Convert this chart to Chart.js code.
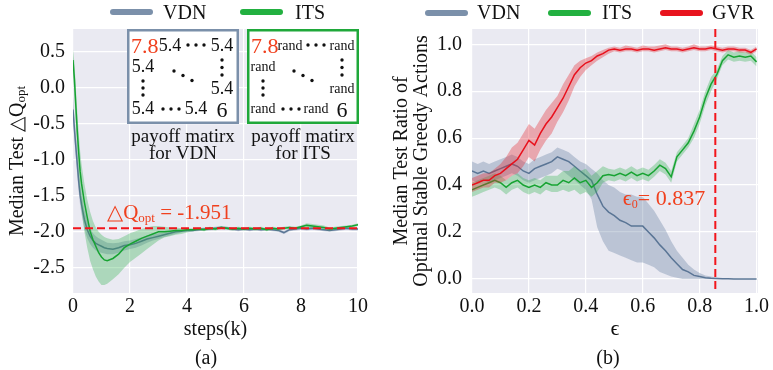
<!DOCTYPE html>
<html>
<head>
<meta charset="utf-8">
<script src="https://cdn.jsdelivr.net/npm/chart.js@4.4.1/dist/chart.umd.min.js"></script>
<style>
  body { margin: 0; width: 773px; height: 370px; position: relative; overflow: hidden; background: #fff;
         font-family: "Liberation Serif", "DejaVu Serif", serif; color: #111; }
  canvas { position: absolute; top: 0; }
  #leftChart { left: 0; }
  #rightChart { left: 390px; }
  .lg { position: absolute; height: 6px; width: 43px; border-radius: 3px; }
  .lt { position: absolute; font-size: 20px; line-height: 24px; top: 0; }
  .cap { position: absolute; top: 344px; font-size: 20px; line-height: 26px; width: 60px; text-align: center; }
</style>
</head>
<body>
<canvas id="leftChart" width="390" height="345"></canvas>
<canvas id="rightChart" width="383" height="345"></canvas>

<div class="lg" style="left:110px;top:9px;background:#7b90aa"></div><span class="lt" style="left:163px">VDN</span>
<div class="lg" style="left:240px;top:9px;background:#22b040"></div><span class="lt" style="left:295px">ITS</span>

<div class="lg" style="left:425px;top:10px;background:#7b90aa"></div><span class="lt" style="left:477px">VDN</span>
<div class="lg" style="left:548px;top:10px;background:#22b040"></div><span class="lt" style="left:602px">ITS</span>
<div class="lg" style="left:660px;top:10px;background:#e8141e"></div><span class="lt" style="left:712px">GVR</span>

<div class="cap" style="left:176px">(a)</div>
<div class="cap" style="left:578px">(b)</div>

<script>
// ---- left panel: median test dQ_opt vs steps(k)
const steps = [0, 0.05, 0.1, 0.15, 0.2, 0.25, 0.3, 0.4, 0.5, 0.6, 0.7, 0.8, 0.9, 1.0, 1.1, 1.2, 1.4, 1.6, 1.8, 2.0,
  2.2, 2.4, 2.6, 2.8, 3.0, 3.2, 3.4, 3.6, 3.8, 4.0,
  4.2, 4.4, 4.6, 4.8, 5.0, 5.2, 5.4, 5.6, 5.8, 6.0, 6.2, 6.4, 6.6, 6.8, 7.0, 7.2, 7.4, 7.6, 7.8, 8.0,
  8.2, 8.4, 8.6, 8.8, 9.0, 9.2, 9.4, 9.6, 9.8, 10.0];

const vdnQ = [-0.3, -0.57, -0.82, -1.06, -1.3, -1.49, -1.62, -1.83, -1.97, -2.06, -2.12, -2.16, -2.18, -2.2, -2.22, -2.23, -2.24, -2.22, -2.19, -2.18,
  -2.16, -2.13, -2.1, -2.08, -2.06, -2.04, -2.02, -2.0, -1.99, -1.98,
  -1.98, -1.97, -1.96, -1.96, -1.95, -1.94, -1.95, -1.96, -1.97, -1.96, -1.97, -1.96, -1.97, -1.96, -1.97, -1.98, -2.01, -1.97, -1.96, -1.95,
  -1.96, -1.95, -1.96, -1.97, -1.98, -1.97, -1.96, -1.95, -1.96, -1.96];
const vdnQLo = [-0.45, -0.73, -0.98, -1.22, -1.45, -1.63, -1.76, -1.96, -2.09, -2.17, -2.22, -2.26, -2.28, -2.29, -2.3, -2.31, -2.31, -2.29, -2.26, -2.24,
  -2.22, -2.19, -2.15, -2.12, -2.1, -2.07, -2.05, -2.03, -2.01, -2.0,
  -2.0, -1.99, -1.98, -1.98, -1.97, -1.96, -1.97, -1.98, -1.99, -1.98, -1.99, -1.98, -1.99, -1.98, -1.99, -2.0, -2.03, -1.99, -1.98, -1.97,
  -1.98, -1.97, -1.98, -1.99, -2.0, -1.99, -1.98, -1.97, -1.98, -1.98];
const vdnQHi = [-0.12, -0.4, -0.66, -0.9, -1.14, -1.34, -1.48, -1.7, -1.85, -1.95, -2.02, -2.06, -2.09, -2.11, -2.13, -2.15, -2.16, -2.15, -2.13, -2.12,
  -2.1, -2.08, -2.05, -2.04, -2.02, -2.01, -1.99, -1.97, -1.97, -1.96,
  -1.96, -1.95, -1.94, -1.94, -1.93, -1.92, -1.93, -1.94, -1.95, -1.94, -1.95, -1.94, -1.95, -1.94, -1.95, -1.96, -1.99, -1.95, -1.94, -1.93,
  -1.94, -1.93, -1.94, -1.95, -1.96, -1.95, -1.94, -1.93, -1.94, -1.94];

const itsQ = [0.39, 0.12, -0.25, -0.6, -0.9, -1.16, -1.33, -1.59, -1.8, -1.99, -2.11, -2.2, -2.29, -2.35, -2.39, -2.4, -2.37, -2.31, -2.22, -2.17,
  -2.13, -2.09, -2.06, -2.03, -2.0, -2.0, -1.99, -1.98, -1.98, -1.97,
  -1.97, -1.96, -1.97, -1.95, -1.96, -1.94, -1.95, -1.96, -1.95, -1.96, -1.95, -1.96, -1.95, -1.97, -1.95, -1.96, -1.95, -1.94, -1.95, -1.93,
  -1.91, -1.92, -1.93, -1.94, -1.96, -1.95, -1.94, -1.93, -1.92, -1.9];
const itsQLo = [0.2, -0.15, -0.55, -0.92, -1.22, -1.5, -1.7, -2.0, -2.22, -2.4, -2.52, -2.62, -2.69, -2.74, -2.74, -2.72, -2.66, -2.59, -2.5, -2.42,
  -2.36, -2.3, -2.24, -2.18, -2.12, -2.08, -2.06, -2.04, -2.03, -2.01,
  -1.99, -1.98, -1.99, -1.97, -1.98, -1.96, -1.97, -1.98, -1.97, -1.98, -1.97, -1.98, -1.97, -1.99, -1.97, -1.98, -1.97, -1.96, -1.97, -1.95,
  -1.94, -1.95, -1.96, -1.97, -1.98, -1.97, -1.96, -1.95, -1.94, -1.92];
const itsQHi = [0.53, 0.35, 0.0, -0.33, -0.62, -0.88, -1.06, -1.33, -1.55, -1.72, -1.85, -1.94, -2.0, -2.04, -2.07, -2.09, -2.11, -2.1, -2.06, -2.02,
  -1.99, -1.96, -1.94, -1.92, -1.92, -1.93, -1.94, -1.94, -1.95, -1.95,
  -1.95, -1.94, -1.95, -1.93, -1.94, -1.92, -1.93, -1.94, -1.93, -1.94, -1.93, -1.94, -1.93, -1.95, -1.93, -1.94, -1.93, -1.92, -1.93, -1.91,
  -1.88, -1.89, -1.9, -1.91, -1.94, -1.93, -1.92, -1.91, -1.9, -1.88];

const stepTicks = [0, 2, 4, 6, 8, 10];
const qTicks = [-2.5, -2.0, -1.5, -1.0, -0.5, 0.0, 0.5];
const dqOpt = -1.951;

// ---- right panel: ratio of optimal stable greedy actions vs epsilon
const eps = [0.00, 0.02, 0.04, 0.06, 0.08, 0.10, 0.12, 0.14, 0.16, 0.18,
  0.20, 0.22, 0.24, 0.26, 0.28, 0.30, 0.32, 0.34, 0.36, 0.38,
  0.40, 0.42, 0.44, 0.46, 0.48, 0.50, 0.52, 0.54, 0.56, 0.58,
  0.60, 0.62, 0.64, 0.66, 0.68, 0.70, 0.72, 0.74, 0.76, 0.78,
  0.80, 0.82, 0.84, 0.86, 0.88, 0.90, 0.92, 0.94, 0.96, 0.98, 1.00];

const vdnR = [0.46, 0.45, 0.46, 0.45, 0.46, 0.47, 0.48, 0.49, 0.48, 0.46,
  0.45, 0.47, 0.48, 0.49, 0.50, 0.52, 0.51, 0.50, 0.48, 0.46,
  0.44, 0.42, 0.36, 0.31, 0.285, 0.27, 0.25, 0.24, 0.225, 0.225,
  0.225, 0.20, 0.175, 0.145, 0.12, 0.09, 0.065, 0.04, 0.03, 0.015,
  0.01, 0.005, 0.003, 0.002, 0.001, 0.001, 0, 0, 0, 0, 0];
const vdnRLo = [0.42, 0.41, 0.42, 0.41, 0.42, 0.43, 0.44, 0.45, 0.44, 0.42,
  0.41, 0.42, 0.43, 0.44, 0.45, 0.47, 0.46, 0.44, 0.42, 0.40,
  0.38, 0.34, 0.22, 0.16, 0.12, 0.11, 0.10, 0.09, 0.08, 0.07,
  0.07, 0.06, 0.05, 0.03, 0.02, 0.01, 0.005, 0, 0, 0,
  0, 0, 0, 0, 0, 0, 0, 0, 0, 0, 0];
const vdnRHi = [0.50, 0.49, 0.50, 0.49, 0.50, 0.51, 0.52, 0.53, 0.52, 0.50,
  0.49, 0.51, 0.52, 0.53, 0.54, 0.56, 0.55, 0.54, 0.52, 0.50,
  0.49, 0.47, 0.45, 0.42, 0.40, 0.39, 0.37, 0.36, 0.36, 0.35,
  0.35, 0.32, 0.29, 0.25, 0.21, 0.16, 0.12, 0.09, 0.06, 0.04,
  0.025, 0.015, 0.01, 0.005, 0.003, 0.002, 0.001, 0, 0, 0, 0];

const itsR = [0.38, 0.39, 0.40, 0.41, 0.42, 0.41, 0.39, 0.41, 0.42, 0.40,
  0.39, 0.40, 0.39, 0.41, 0.40, 0.40, 0.42, 0.41, 0.43, 0.41,
  0.42, 0.39, 0.41, 0.44, 0.445, 0.44, 0.45, 0.44, 0.455, 0.44,
  0.45, 0.44, 0.46, 0.485, 0.47, 0.435, 0.52, 0.55, 0.58, 0.63,
  0.69, 0.77, 0.83, 0.87, 0.93, 0.955, 0.945, 0.95, 0.945, 0.95, 0.925];
const itsRLo = [0.35, 0.36, 0.37, 0.38, 0.39, 0.38, 0.36, 0.38, 0.39, 0.37,
  0.36, 0.37, 0.36, 0.38, 0.37, 0.37, 0.38, 0.37, 0.38, 0.36,
  0.37, 0.35, 0.37, 0.41, 0.42, 0.415, 0.425, 0.415, 0.43, 0.415,
  0.425, 0.415, 0.435, 0.46, 0.445, 0.41, 0.50, 0.53, 0.56, 0.60,
  0.66, 0.74, 0.80, 0.85, 0.91, 0.935, 0.925, 0.93, 0.925, 0.93, 0.905];
const itsRHi = [0.41, 0.42, 0.43, 0.44, 0.45, 0.44, 0.42, 0.44, 0.45, 0.43,
  0.42, 0.43, 0.42, 0.44, 0.44, 0.44, 0.46, 0.46, 0.48, 0.46,
  0.47, 0.44, 0.46, 0.48, 0.47, 0.465, 0.475, 0.465, 0.48, 0.465,
  0.475, 0.465, 0.485, 0.51, 0.495, 0.46, 0.54, 0.57, 0.60, 0.66,
  0.72, 0.80, 0.86, 0.89, 0.95, 0.975, 0.965, 0.97, 0.965, 0.97, 0.945];

const gvrR = [0.40, 0.41, 0.42, 0.42, 0.44, 0.45, 0.47, 0.49, 0.51, 0.55,
  0.59, 0.57, 0.62, 0.66, 0.69, 0.73, 0.77, 0.82, 0.87, 0.90,
  0.92, 0.93, 0.95, 0.96, 0.975, 0.98, 0.975, 0.98, 0.98, 0.975,
  0.98, 0.98, 0.975, 0.98, 0.985, 0.98, 0.98, 0.975, 0.98, 0.985,
  0.98, 0.98, 0.985, 0.98, 0.975, 0.98, 0.98, 0.975, 0.975, 0.965, 0.98];
const gvrRLo = [0.37, 0.38, 0.39, 0.39, 0.41, 0.41, 0.42, 0.44, 0.45, 0.48,
  0.52, 0.50, 0.55, 0.59, 0.62, 0.67, 0.71, 0.76, 0.82, 0.86,
  0.89, 0.91, 0.93, 0.945, 0.96, 0.97, 0.965, 0.97, 0.97, 0.965,
  0.97, 0.97, 0.965, 0.97, 0.975, 0.97, 0.97, 0.965, 0.97, 0.975,
  0.97, 0.97, 0.975, 0.97, 0.965, 0.97, 0.97, 0.965, 0.965, 0.955, 0.97];
const gvrRHi = [0.43, 0.44, 0.45, 0.45, 0.47, 0.49, 0.52, 0.56, 0.58, 0.62,
  0.66, 0.64, 0.68, 0.72, 0.75, 0.78, 0.83, 0.87, 0.91, 0.93,
  0.94, 0.95, 0.965, 0.975, 0.985, 0.99, 0.985, 0.995, 0.99, 0.985,
  0.995, 0.99, 0.99, 0.995, 1.0, 0.99, 0.99, 0.985, 0.99, 1.0,
  0.99, 0.99, 0.995, 0.99, 0.985, 0.99, 0.99, 0.985, 0.985, 0.975, 0.99];

const epsTicks = [0.0, 0.2, 0.4, 0.6, 0.8, 1.0];
const ratioTicks = [0.0, 0.2, 0.4, 0.6, 0.8, 1.0];
const eps0Line = 0.855;
const eps0Text = "0.837";

// payoff matrix insets
const vdnWords = ["5.4", "5.4", "5.4", "5.4", "5.4", "5.4"];
const itsWords = ["rand", "rand", "rand", "rand", "rand", "rand"];

const SERIF = "Liberation Serif";
const RED_TXT = "#f0401e";

// one band (lo/hi fill) plus the median line
function series(xs, mid, lo, hi, line, band, ord) {
  const pts = arr => arr.map((y, i) => ({ x: xs[i], y: y }));
  const clear = "rgba(0,0,0,0)";
  return [
    { data: pts(lo), borderColor: clear, borderWidth: 1, pointRadius: 0, fill: false, order: ord + 2 },
    { data: pts(hi), borderColor: clear, borderWidth: 1, pointRadius: 0, fill: "-1", backgroundColor: band, order: ord + 1 },
    { data: pts(mid), borderColor: line, borderWidth: 1.5, pointRadius: 0, fill: false, order: ord }
  ];
}

const plotBg = {
  id: "plotBg",
  beforeDraw(chart) {
    const { ctx, chartArea: a } = chart;
    ctx.save();
    ctx.fillStyle = "#eaeaf2";
    ctx.fillRect(a.left, a.top, a.width, a.height);
    ctx.restore();
  }
};

function dot(ctx, x, y) {
  ctx.beginPath();
  ctx.arc(x, y, 1.7, 0, Math.PI * 2);
  ctx.fill();
}

function drawMatrix(ctx, x0, border, words, wordSize, caption) {
  const top = 29;
  ctx.save();
  ctx.fillStyle = "#fff";
  ctx.fillRect(x0, top, 112, 95);
  ctx.strokeStyle = border;
  ctx.lineWidth = 2.5;
  ctx.strokeRect(x0 + 1.25, top + 1.25, 109.5, 92.5);

  ctx.textBaseline = "middle";
  ctx.fillStyle = RED_TXT;
  ctx.textAlign = "left";
  ctx.font = "22px " + SERIF;
  ctx.fillText("7.8", x0 + 4, 47);

  ctx.fillStyle = "#111";
  ctx.textAlign = "center";
  ctx.font = wordSize + "px " + SERIF;
  ctx.fillText(words[0], x0 + 43, 46);
  ctx.fillText(words[1], x0 + 95, 46);
  ctx.fillText(words[2], x0 + 16, 67);
  ctx.fillText(words[3], x0 + 95, 89);
  ctx.fillText(words[4], x0 + 16, 109);
  ctx.fillText(words[5], x0 + 69, 109);
  ctx.font = "22px " + SERIF;
  ctx.fillText("6", x0 + 95, 111);

  [61, 69, 77].forEach(dx => dot(ctx, x0 + dx, 45));
  [36, 44, 52].forEach(dx => dot(ctx, x0 + dx, 109));
  [60, 67.5, 75].forEach(dy => dot(ctx, x0 + 95, dy));
  [81, 88, 95].forEach(dy => dot(ctx, x0 + 16, dy));
  dot(ctx, x0 + 47, 71); dot(ctx, x0 + 56, 75.5); dot(ctx, x0 + 65, 80.5);

  ctx.font = "19px " + SERIF;
  ctx.fillText("payoff matirx", x0 + 56, 137);
  ctx.fillText(caption, x0 + 56, 154);
  ctx.restore();
}

const leftExtras = {
  id: "leftExtras",
  afterDatasetsDraw(chart) {
    const { ctx, chartArea: a, scales: { x, y } } = chart;
    const yy = y.getPixelForValue(dqOpt);
    ctx.save();
    ctx.strokeStyle = "#f2151b";
    ctx.lineWidth = 2;
    ctx.setLineDash([8, 4]);
    ctx.beginPath();
    ctx.moveTo(a.left, yy);
    ctx.lineTo(a.right, yy);
    ctx.stroke();
    ctx.restore();

    // annotation
    ctx.save();
    ctx.fillStyle = RED_TXT;
    ctx.textBaseline = "alphabetic";
    let px = x.getPixelForValue(1.2);
    const base = y.getPixelForValue(-1.82);
    ctx.font = "21px " + SERIF;
    ctx.fillText("△Q", px, base);
    px += ctx.measureText("△Q").width;
    ctx.font = "13px " + SERIF;
    ctx.fillText("opt", px, base + 3);
    px += ctx.measureText("opt").width;
    ctx.font = "21px " + SERIF;
    ctx.fillText(" = " + dqOpt.toFixed(3), px, base);
    ctx.restore();
  },
  afterDraw(chart) {
    const { ctx, chartArea: a } = chart;
    drawMatrix(ctx, 127, "#7b90aa", vdnWords, 18, "for VDN");
    drawMatrix(ctx, 247, "#1fa83a", itsWords, 14, "for ITS");

    // y-axis title with subscript
    ctx.save();
    ctx.translate(18, (a.top + a.bottom) / 2);
    ctx.rotate(-Math.PI / 2);
    ctx.fillStyle = "#111";
    ctx.textBaseline = "middle";
    ctx.font = "20px " + SERIF;
    const main = "Median Test △Q";
    const w1 = ctx.measureText(main).width;
    ctx.font = "13px " + SERIF;
    const w2 = ctx.measureText("opt").width;
    let sx = -(w1 + w2) / 2;
    ctx.font = "20px " + SERIF;
    ctx.fillText(main, sx, 0);
    ctx.font = "13px " + SERIF;
    ctx.fillText("opt", sx + w1, 4);
    ctx.restore();
  }
};

const rightExtras = {
  id: "rightExtras",
  afterDatasetsDraw(chart) {
    const { ctx, chartArea: a, scales: { x, y } } = chart;
    const xx = x.getPixelForValue(eps0Line);
    ctx.save();
    ctx.strokeStyle = "#f2151b";
    ctx.lineWidth = 2;
    ctx.setLineDash([8, 4]);
    ctx.beginPath();
    ctx.moveTo(xx, a.top);
    ctx.lineTo(xx, a.bottom);
    ctx.stroke();
    ctx.restore();

    ctx.save();
    ctx.fillStyle = RED_TXT;
    ctx.textBaseline = "alphabetic";
    let px = x.getPixelForValue(0.53);
    const base = y.getPixelForValue(0.315);
    ctx.font = "22px " + SERIF;
    ctx.fillText("ϵ", px, base);
    px += ctx.measureText("ϵ").width;
    ctx.font = "12px " + SERIF;
    ctx.fillText("0", px, base + 3);
    px += ctx.measureText("0").width;
    ctx.font = "22px " + SERIF;
    ctx.fillText("= " + eps0Text, px, base);
    ctx.restore();
  }
};

const tickFont = { family: SERIF, size: 20 };
const gridOpts = { color: "#ffffff", lineWidth: 1.2, drawTicks: false };

function fixedTicks(list) {
  return scale => { scale.ticks = list.map(v => ({ value: v })); };
}

new Chart(document.getElementById("leftChart"), {
  type: "line",
  data: {
    datasets: [
      ...series(steps, vdnQ, vdnQLo, vdnQHi, "#5a7595", "rgba(100,125,160,0.35)", 4),
      ...series(steps, itsQ, itsQLo, itsQHi, "#17a332", "rgba(40,175,70,0.32)", 1)
    ]
  },
  options: {
    responsive: false,
    animation: false,
    layout: { padding: { top: 29, right: 32, left: 0, bottom: 0 } },
    plugins: { legend: { display: false }, tooltip: { enabled: false } },
    scales: {
      x: {
        type: "linear", min: 0, max: 10,
        afterBuildTicks: fixedTicks(stepTicks),
        afterFit: s => { s.height = 52; },
        grid: gridOpts, border: { display: false },
        ticks: { font: tickFont, color: "#111", padding: 2, maxRotation: 0, callback: v => String(v) },
        title: { display: true, text: "steps(k)", font: tickFont, color: "#111", padding: { top: 0, bottom: 3 } }
      },
      y: {
        type: "linear", min: -2.85, max: 0.82,
        afterBuildTicks: fixedTicks(qTicks),
        afterFit: s => { s.width = 73; },
        grid: gridOpts, border: { display: false },
        ticks: { font: tickFont, color: "#111", padding: 8, callback: v => v.toFixed(1) }
      }
    }
  },
  plugins: [plotBg, leftExtras]
});

new Chart(document.getElementById("rightChart"), {
  type: "line",
  data: {
    datasets: [
      ...series(eps, vdnR, vdnRLo, vdnRHi, "#5a7595", "rgba(100,125,160,0.35)", 7),
      ...series(eps, itsR, itsRLo, itsRHi, "#17a332", "rgba(40,175,70,0.32)", 4),
      ...series(eps, gvrR, gvrRLo, gvrRHi, "#e8101c", "rgba(230,40,50,0.35)", 1)
    ]
  },
  options: {
    responsive: false,
    animation: false,
    layout: { padding: { top: 29, right: 15, left: 0, bottom: 0 } },
    plugins: { legend: { display: false }, tooltip: { enabled: false } },
    scales: {
      x: {
        type: "linear", min: 0, max: 1.005,
        afterBuildTicks: fixedTicks(epsTicks),
        afterFit: s => { s.height = 52; },
        grid: gridOpts, border: { display: false },
        ticks: { font: tickFont, color: "#111", padding: 2, maxRotation: 0, callback: v => v.toFixed(1) },
        title: { display: true, text: "ϵ", font: { family: SERIF, size: 22 }, color: "#111", padding: { top: 0, bottom: 3 } }
      },
      y: {
        type: "linear", min: -0.06, max: 1.065,
        afterBuildTicks: fixedTicks(ratioTicks),
        afterFit: s => { s.width = 82; },
        grid: gridOpts, border: { display: false },
        ticks: { font: tickFont, color: "#111", padding: 10, callback: v => v.toFixed(1) },
        title: {
          display: true,
          text: ["Median Test Ratio of", "Optimal Stable Greedy Actions"],
          font: { family: SERIF, size: 20, lineHeight: 1.0 }, color: "#111",
          padding: { top: 2, bottom: 0 }
        }
      }
    }
  },
  plugins: [plotBg, rightExtras]
});
</script>
</body>
</html>
